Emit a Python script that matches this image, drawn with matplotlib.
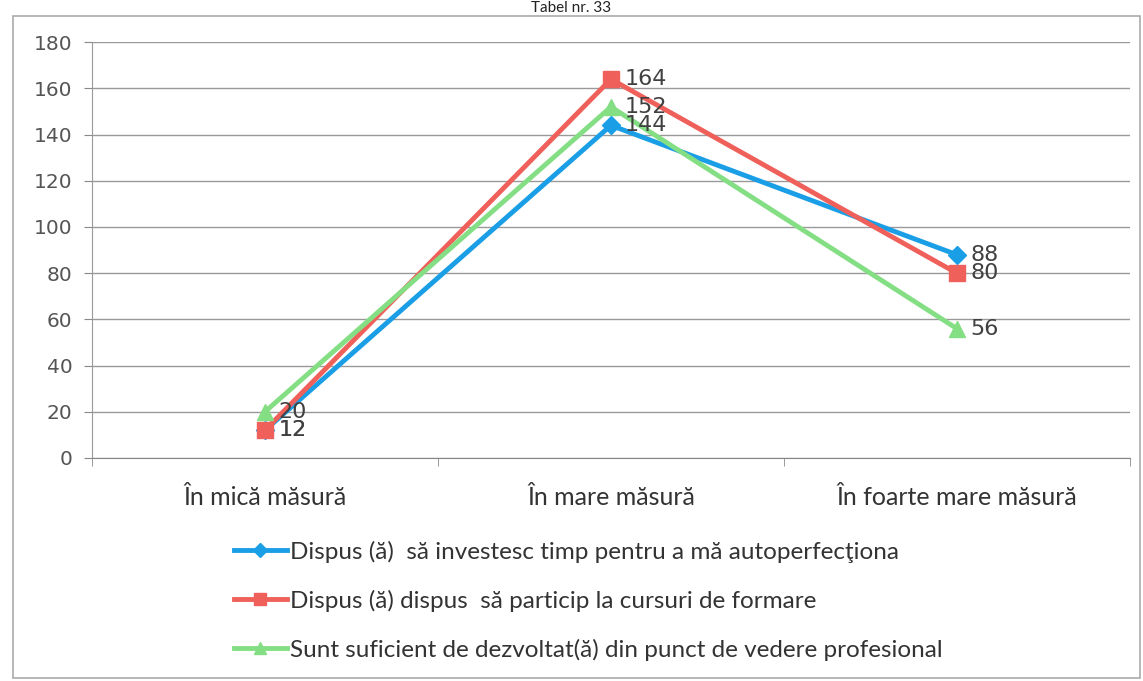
import matplotlib.pyplot as plt
from matplotlib.patches import Rectangle

categorii = ['În mică măsură', 'În mare măsură', 'În foarte mare măsură']
serie_timp = [12, 144, 88]
serie_cursuri = [12, 164, 80]
serie_dezvoltat = [20, 152, 56]
nume_serii = ['Dispus (ă)  să investesc timp pentru a mă autoperfecţiona',
              'Dispus (ă) dispus  să particip la cursuri de formare',
              'Sunt suficient de dezvoltat(ă) din punct de vedere profesional']

plt.rcParams['font.family'] = ['Lato', 'DejaVu Sans']

def main():
	fig = plt.figure(figsize=(11.43, 6.81), dpi=100)
	ax = fig.add_axes([0.0805, 0.3275, 0.908, 0.6105])

	x = list(range(len(categorii)))
	stiluri = [('#1a9ee6', 'D', 9), ('#f0605a', 's', 11), ('#84de84', '^', 11)]
	serii = [serie_timp, serie_cursuri, serie_dezvoltat]
	for vals, nume, (col, mk, ms) in zip(serii, nume_serii, stiluri):
		ax.plot(x, vals, color=col, lw=3.5, marker=mk, ms=ms, label=nume)

	# etichete de date
	for vals in serii:
		for xi, v in zip(x, vals):
			ax.annotate(str(v), (xi, v), xytext=(10, 0), textcoords='offset points',
						va='center', ha='left', fontsize=16, color='#404040',
						family=['DejaVu Sans'])

	ax.set_xlim(-0.5, 2.5)
	ax.set_ylim(0, 180)
	ax.set_yticks(range(0, 181, 20))
	ax.set_xticks(x)
	ax.set_xticklabels(categorii, fontsize=18, color='#333333')
	ax.set_xticks([-0.5, 0.5, 1.5, 2.5], minor=True)
	ax.tick_params(axis='x', which='major', length=0, pad=20)
	ax.tick_params(axis='x', which='minor', length=6, color='#888888')
	ax.tick_params(axis='y', length=6, color='#888888', labelsize=14.5,
				   labelcolor='#555555', pad=8)
	for lab in ax.get_yticklabels():
		lab.set_family(['DejaVu Sans'])
	ax.grid(axis='y', color='#999999', lw=1)
	ax.set_axisbelow(True)
	for s in ['top', 'right']:
		ax.spines[s].set_visible(False)
	ax.spines['left'].set_color('#999999')
	ax.spines['bottom'].set_color('#888888')

	fig.legend(loc='upper left', bbox_to_anchor=(0.196, 0.22), frameon=False,
			   fontsize=17.5, handlelength=2.2, handletextpad=0.1, markerscale=0.8,
			   labelspacing=1.1, borderaxespad=0, labelcolor='#333333')

	fig.add_artist(Rectangle((0.011, 0.005), 0.986, 0.972, transform=fig.transFigure,
							 fill=False, edgecolor='#aaaaaa', lw=1.2))
	fig.text(0.5, 0.999, 'Tabel nr. 33', ha='center', va='top', fontsize=11, color='#222222')

	fig.savefig('out.png', dpi=100)

if __name__ == "__main__":
	main()
